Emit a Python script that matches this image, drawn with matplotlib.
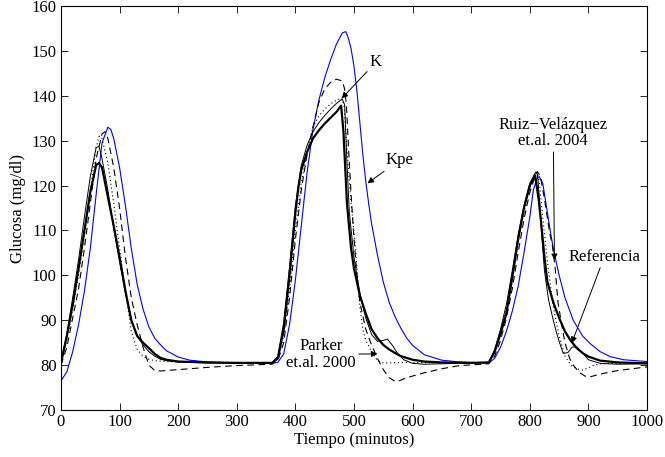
import matplotlib
matplotlib.use("Agg")
import matplotlib.pyplot as plt

plt.rcParams['font.family'] = ['Liberation Serif', 'DejaVu Serif']
plt.rcParams['font.size'] = 12

# Thick black: Referencia
t_ref = [0, 10, 20, 30, 40, 50, 60, 65, 70, 80, 90, 100, 110, 120, 130, 140, 150, 160, 170, 180, 200, 250, 300,
         360, 370, 380, 390, 400, 405, 410, 420, 430, 440, 450, 460, 470, 478, 482, 488, 495, 500, 510, 520, 530,
         540, 550, 560, 570, 580, 600, 620, 650, 700,
         730, 740, 750, 760, 770, 780, 790, 800, 809, 815, 820, 825, 830, 840, 850, 860, 870, 880, 890, 900, 920,
         950, 1000]
g_ref = [80.5, 86.5, 93.5, 101.5, 110, 118.5, 124.6, 125, 124, 117.5, 111, 104, 96.5, 90, 86.5, 85, 83.8, 82.5,
         81.6, 81.2, 80.8, 80.6, 80.5,
         80.5, 81.5, 88, 100, 114, 119.5, 123.5, 127.5, 130.5, 132.3, 133.8, 135.1, 136.4, 137.8, 132, 116, 106,
         101.5, 95.5, 91.5, 88, 86, 84.5, 83.5, 82.7, 82, 81.2, 80.8, 80.6, 80.5,
         80.6, 83, 87, 91.5, 99.5, 108, 115, 120, 122.3, 117, 110.8, 104, 98.5, 94, 90.5, 87.5, 85.4, 83.8, 82.7,
         81.9, 81, 80.6, 80.4]

# Thin black: K
t_k = [0, 10, 20, 30, 40, 50, 60, 65, 70, 80, 90, 100, 110, 120, 130, 140, 150, 160, 170, 180, 200, 250, 300,
       360, 370, 380, 390, 400, 410, 420, 430, 440, 450, 460, 470, 480, 484, 488, 492, 500, 510, 520, 530, 540,
       550, 557, 565, 575, 585, 600, 620, 650, 700,
       730, 740, 750, 760, 770, 780, 790, 800, 810, 813, 817, 820, 825, 832, 840, 846, 852, 857, 865, 872, 880,
       888, 900, 920, 950, 1000]
g_k = [80.5, 87, 95, 103.5, 113, 122, 128.5, 128.7, 126, 119, 110.5, 103, 96, 90, 86.5, 84.5, 83, 82, 81.3, 81,
       80.7, 80.5, 80.5,
       80.5, 82, 89.5, 102, 115.5, 124.5, 129, 132, 134, 135.6, 137, 138.3, 139.3, 138, 125, 114, 104, 96, 90.5,
       86.8, 85.3, 85.5, 85.8, 84.5, 82.5, 81.2, 80.4, 80.2, 80.3, 80.5,
       80.6, 83.5, 88, 93.5, 101, 109, 115.5, 120.5, 123, 122.5, 116, 109.3, 101, 94.5, 90, 87, 84.5, 82.6, 82.8,
       84, 84.1, 83, 81.2, 80.4, 80.2, 80.3]

# Dashed: Ruiz-Velazquez et al. 2004
t_rv = [0, 10, 20, 30, 40, 50, 60, 70, 75, 80, 90, 100, 110, 120, 130, 140, 150, 160, 170, 180, 200, 220, 250,
        300, 360, 370, 380, 390, 400, 410, 420, 430, 440, 450, 460, 470, 480, 484, 487, 490, 495, 500, 505, 510,
        520, 530, 540, 550, 560, 570, 575, 590, 620, 650, 680, 720,
        730, 740, 750, 760, 770, 780, 790, 800, 810, 813, 818, 825, 834, 838, 843, 848, 855, 860, 868, 874, 885,
        895, 903, 920, 950, 1000]
g_rv = [80, 84, 90.5, 97, 106, 116, 126, 131.5, 132, 130.5, 124, 115, 104, 95, 89, 84, 80, 78.8, 78.7, 78.8, 79,
        79.2, 79.5, 79.9, 80.2, 81, 85, 95, 108, 119, 127, 133, 138.5, 141.5, 143, 143.7, 143.3, 141.5, 138, 130,
        118, 108, 100, 94, 88, 84.5, 81.5, 79, 77.2, 76.4, 76.4, 77.2, 78.3, 79.2, 79.9, 80.2,
        80.3, 82, 85.5, 90.5, 97, 105, 112.5, 118.5, 122.5, 123.1, 122, 117, 109.3, 107, 102, 94, 88.5, 85, 81.5,
        80, 78.3, 77.5, 77.4, 78, 78.8, 79.6]

# Dotted: Parker et al. 2000
t_pk = [0, 10, 20, 30, 40, 50, 60, 65, 70, 80, 90, 100, 110, 120, 130, 140, 150, 160, 180, 200, 250, 300,
        360, 370, 380, 390, 400, 410, 420, 430, 440, 450, 460, 470, 478, 483, 488, 495, 502, 510, 515, 520, 530,
        540, 550, 600, 650, 700,
        730, 740, 750, 760, 770, 780, 790, 800, 808, 812, 816, 822, 830, 840, 850, 860, 870, 880, 890, 900, 910,
        920, 950, 1000]
g_pk = [80.5, 85.5, 92.5, 100, 109, 119, 128.5, 131, 130.5, 125, 116, 106, 96.5, 87.5, 83.5, 82, 81.3, 81, 80.8,
        80.7, 80.5, 80.5,
        80.5, 81.3, 86.5, 97, 110, 120.5, 127.5, 133, 135.5, 137, 138.2, 139, 139.5, 138, 128, 116, 107, 93, 88,
        85.5, 83, 81, 80.5, 80.6, 80.5, 80.5,
        80.6, 83, 87.5, 93, 100, 107.5, 114, 119.5, 122.5, 123, 121, 113, 103, 93, 86.5, 82, 80, 79.2, 78.9, 79.4,
        80, 80.3, 80.4, 80.4]

# Blue: Kpe
t_kpe = [0, 10, 20, 30, 40, 50, 60, 70, 80, 85, 90, 100, 110, 120, 130, 140, 150, 160, 170, 180, 200, 220, 250,
         300, 360, 370, 380, 390, 400, 410, 420, 430, 440, 450, 460, 470, 480, 486, 490, 495, 500, 505, 510, 515,
         520, 525, 530, 540, 550, 560, 570, 580, 590, 600, 620, 650, 680, 720,
         730, 740, 750, 760, 770, 780, 790, 800, 806, 812, 816, 822, 830, 834, 840, 850, 860, 874, 890, 903, 920,
         937, 960, 1000]
g_kpe = [76.5, 78.5, 83, 89, 96.5, 106, 118, 129.5, 133, 132.5, 130.5, 124, 115.5, 106, 98, 92.5, 88.5, 86, 84.5,
         83.2, 81.8, 81.1, 80.7, 80.5,
         80.5, 80.6, 82.5, 89, 99, 111, 123, 132.5, 139, 144, 148, 151.5, 154, 154.3, 153, 150.5, 146.5, 141,
         134, 127, 121, 116, 111.5, 104.5, 98.5, 94, 90.8, 88.2, 86, 84.4, 82.3, 81.1, 80.7, 80.5,
         80.5, 81.5, 84, 87.5, 92, 97.5, 105, 113, 119, 121.5, 122, 120.5, 114, 110.5, 106, 100, 95, 90, 86.5,
         84.8, 83, 81.9, 81.2, 80.8]

fig = plt.figure(figsize=(6.65, 4.57), dpi=100)
ax = fig.add_axes([0.0917, 0.1028, 0.8813, 0.8841])

ax.plot(t_kpe, g_kpe, color='#0000ff', lw=0.8)
ax.plot(t_rv, g_rv, color='k', lw=0.8, linestyle=(0, (6, 4)))
ax.plot(t_pk, g_pk, color='k', lw=0.8, linestyle=(0, (1, 2.5)))
ax.plot(t_k, g_k, color='k', lw=0.7)
ax.plot(t_ref, g_ref, color='k', lw=1.6)

ax.set_xlim(0, 1000)
ax.set_ylim(70, 160)
ax.set_xticks(range(0, 1001, 100))
ax.set_yticks(range(70, 161, 10))
ax.tick_params(direction='in', top=True, right=True, length=5, width=0.6, pad=3, labelsize=12)
for s in ax.spines.values():
    s.set_linewidth(0.8)

ax.set_xlabel('Tiempo (minutos)', fontsize=12, labelpad=1)
ax.set_ylabel('Glucosa (mg/dl)', fontsize=12, labelpad=4)

ap = dict(arrowstyle='-|>', color='k', lw=0.7, mutation_scale=9, shrinkA=0, shrinkB=0)
ax.annotate('K', xy=(479, 139.4), xytext=(527, 145.7), fontsize=12, ha='left', va='bottom', arrowprops=ap)
ax.annotate('Kpe', xy=(523, 120.5), xytext=(553, 123.8), fontsize=12, ha='left', va='bottom', arrowprops=ap)
ax.annotate('Parker\net.al. 2000', xy=(540, 82.5), xytext=(444, 82.4), fontsize=12, ha='center',
            va='center', multialignment='center', linespacing=1.1, arrowprops=ap)
ax.annotate('Ruiz\u2212Velázquez\net.al. 2004', xy=(842, 103.4), xytext=(840, 128.1), fontsize=12,
            ha='center', va='bottom', multialignment='center', linespacing=1.05, arrowprops=ap)
ax.annotate('Referencia', xy=(871.5, 84.9), xytext=(927, 102.3), fontsize=12, ha='center', va='bottom',
            arrowprops=ap)

fig.savefig('out.png', dpi=100)
